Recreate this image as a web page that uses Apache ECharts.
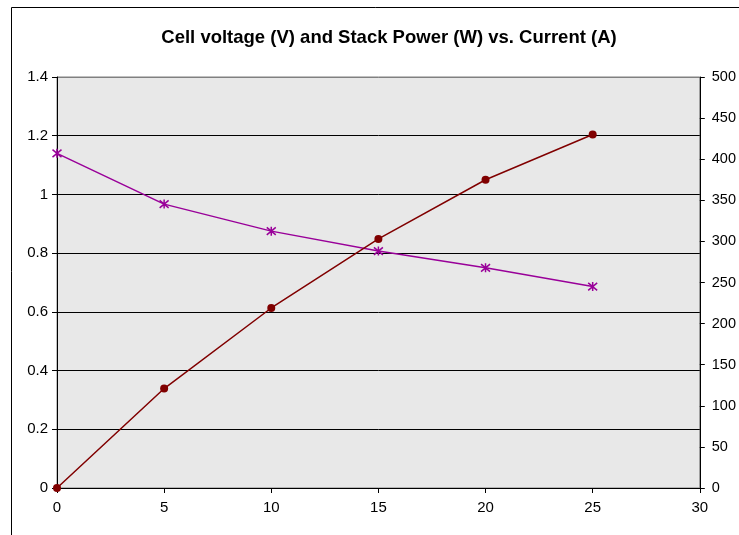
<!DOCTYPE html>
<html>
<head>
<meta charset="utf-8">
<script src="https://cdn.jsdelivr.net/npm/echarts@6/dist/echarts.min.js"></script>
<style>
    html, body { margin: 0; padding: 0; background: #fff; }
    #chart { width: 739px; height: 535px; }
</style>
</head>
<body>
<div id="chart"></div>
<script>
    // current (A)
    const currents = [0, 5, 10, 15, 20, 25]
    // cell voltage (V), left axis
    const voltage = [1.14, 0.967, 0.875, 0.807, 0.75, 0.686]
    // stack power (W), right axis
    const power = [0, 121, 219, 303, 375, 430]

    const font = "'Liberation Sans', Arial, sans-serif"
    const chart = echarts.init(document.getElementById('chart'))

    const pair = arr => currents.map((c, i) => [c, arr[i]])

    chart.setOption({
        animation: false,
        backgroundColor: '#fff',
        textStyle: { fontFamily: font },
        title: {
            text: 'Cell voltage (V) and Stack Power (W) vs. Current (A)',
            left: 384,
            top: 23,
            textAlign: 'center',
            textStyle: { fontFamily: font, fontSize: 18.5, fontWeight: 'bold', color: '#000' }
        },
        graphic: [{
            type: 'rect',
            shape: { x: 11.5, y: 7.5, width: 800, height: 600 },
            style: { fill: 'none', stroke: '#000', lineWidth: 1 },
            z: -1
        }],
        grid: {
            left: 57, top: 77, right: 39, bottom: 47,
            show: true,
            backgroundColor: '#e8e8e8',
            borderColor: '#808080',
            borderWidth: 1
        },
        xAxis: {
            type: 'value',
            min: 0, max: 30, interval: 5,
            axisLine: { lineStyle: { color: '#000' } },
            axisTick: { show: true, length: 5, lineStyle: { color: '#000' } },
            axisLabel: { color: '#000', fontSize: 15, margin: 12, fontFamily: font },
            splitLine: { show: false }
        },
        yAxis: [{
            type: 'value',
            min: 0, max: 1.4, interval: 0.2,
            axisLine: { show: true, lineStyle: { color: '#000' } },
            axisTick: { show: true, length: 5, lineStyle: { color: '#000' } },
            axisLabel: {
                color: '#000', fontSize: 15, margin: 9, fontFamily: font,
                formatter: v => String(Math.round(v * 10) / 10)
            },
            splitLine: {
                show: true,
                lineStyle: { color: ['#000', '#000', '#000', '#000', '#000', '#000', '#000', '#808080'], width: 1 }
            }
        }, {
            type: 'value',
            position: 'right',
            min: 0, max: 500, interval: 50,
            axisLine: { show: true, lineStyle: { color: '#000' } },
            axisTick: { show: true, length: 5, lineStyle: { color: '#000' } },
            axisLabel: { color: '#000', fontSize: 14.5, margin: 12, fontFamily: font },
            splitLine: { show: false }
        }],
        series: [{
            name: 'Cell voltage (V)',
            type: 'line',
            yAxisIndex: 0,
            data: pair(voltage),
            symbol: 'path://M0 0 L10 10 M10 0 L0 10 M5 -1 L5 11',
            symbolSize: 9,
            itemStyle: { color: 'none', borderColor: '#990099', borderWidth: 1.5 },
            lineStyle: { color: '#990099', width: 1.5 },
            z: 3
        }, {
            name: 'Stack Power (W)',
            type: 'line',
            yAxisIndex: 1,
            data: pair(power),
            symbol: 'circle',
            symbolSize: 8,
            itemStyle: { color: '#800000', borderWidth: 0 },
            lineStyle: { color: '#800000', width: 1.5 },
            z: 4
        }]
    })
</script>
</body>
</html>
